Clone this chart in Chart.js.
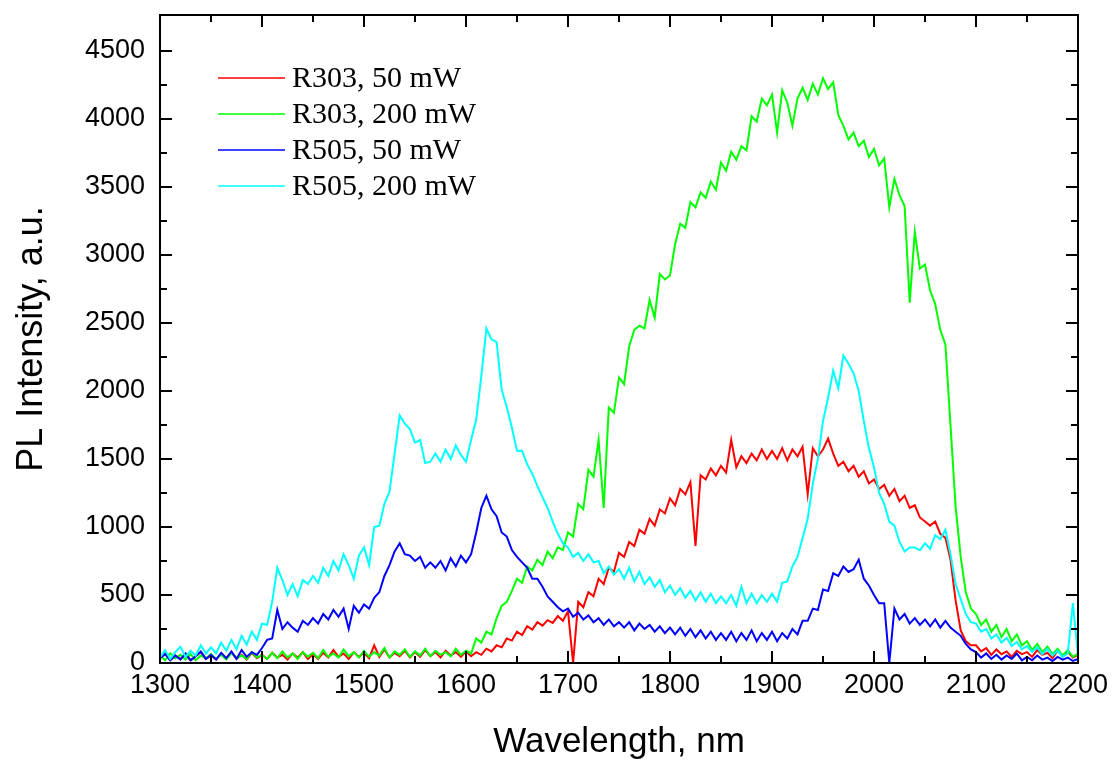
<!DOCTYPE html>
<html>
<head>
<meta charset="utf-8">
<script src="https://cdn.jsdelivr.net/npm/chart.js@4.4.1/dist/chart.umd.min.js"></script>
<style>
  body { margin: 0; background: #fff; }
  #wrap { position: relative; width: 1112px; height: 763px; }
</style>
</head>
<body>
<div id="wrap"><canvas id="PLChart" width="1112" height="763"></canvas></div>
<script>
// PL spectra, sampled every 5 nm from 1300 to 2200 nm
var wlStart = 1300, wlStep = 5;

// R303, 50 mW
var r303_50 = [
  40, 70, 20, 55, 30, 60, 20, 50, 80, 30,              // 1300
  55, 25, 70, 35, 80, 30, 60, 25, 75, 35,              // 1350
  60, 30, 75, 40, 60, 25, 70, 40, 80, 30,              // 1400
  65, 30, 75, 40, 95, 45, 70, 30, 80, 45,              // 1450
  75, 35, 130, 45, 100, 40, 75, 50, 90, 40,            // 1500
  80, 45, 95, 50, 80, 40, 90, 55, 80, 45,              // 1550
  85, 50, 80, 60, 105, 85, 130, 115, 180, 165,         // 1600
  230, 205, 270, 245, 300, 275, 315, 295, 345, 310,    // 1650
  380, 0, 450, 410, 520, 490, 620, 580, 700, 670,      // 1700
  810, 780, 890, 860, 980, 950, 1060, 1010, 1130, 1100, // 1750
  1210, 1160, 1280, 1240, 1330, 860, 1380, 1350, 1430, 1380, // 1800
  1450, 1400, 1640, 1440, 1520, 1470, 1540, 1490, 1570, 1500, // 1850
  1560, 1500, 1580, 1490, 1570, 1520, 1590, 1240, 1580, 1520, // 1900
  1570, 1650, 1540, 1450, 1480, 1410, 1450, 1370, 1410, 1320, // 1950
  1350, 1280, 1310, 1230, 1280, 1190, 1230, 1140, 1160, 1070, // 2000
  1040, 1010, 1040, 950, 920, 760, 460, 240, 160, 130, // 2050
  130, 85, 110, 60, 100, 65, 85, 45, 90, 65,           // 2100
  80, 45, 95, 60, 75, 35, 90, 50, 80, 40,              // 2150
  60                                                    // 2200
];

// R303, 200 mW
var r303_200 = [
  55, 20, 70, 35, 60, 25, 65, 20, 55, 35,
  65, 30, 60, 25, 75, 35, 55, 30, 80, 40,
  60, 30, 75, 35, 85, 40, 70, 30, 80, 45,
  75, 35, 95, 45, 70, 40, 100, 50, 80, 40,
  90, 45, 80, 55, 110, 40, 85, 60, 100, 45,
  85, 55, 105, 50, 90, 60, 80, 50, 105, 60,
  90, 70, 180, 150, 230, 210, 330, 420, 450, 530,
  620, 590, 710, 680, 760, 720, 820, 770, 850, 830,
  960, 930, 1170, 1130, 1420, 1370, 1640, 1140, 1880, 1840,
  2100, 2050, 2330, 2450, 2480, 2460, 2670, 2540, 2860, 2820,
  2850, 3080, 3230, 3200, 3390, 3350, 3460, 3420, 3540, 3480,
  3680, 3620, 3760, 3700, 3800, 3770, 4020, 3980, 4150, 4100,
  4180, 3900, 4210, 4120, 3950, 4150, 4230, 4140, 4260, 4180,
  4300, 4220, 4270, 4030, 3950, 3850, 3900, 3800, 3840, 3720,
  3780, 3660, 3710, 3350, 3560, 3440, 3360, 2650, 3170, 2900,
  2930, 2740, 2640, 2450, 2340, 1750, 1150, 780, 520, 400,
  360, 280, 320, 230, 280, 190, 250, 160, 210, 130,
  160, 95, 140, 80, 120, 65, 105, 55, 95, 45,
  70
];

// R505, 50 mW
var r505_50 = [
  35, 65, 20, 55, 25, 70, 20, 50, 85, 30,
  60, 25, 75, 35, 85, 30, 95, 45, 80, 60,
  110, 170, 180, 390, 250, 300, 260, 230, 310, 280,
  330, 290, 360, 320, 390, 340, 400, 250, 420, 370,
  430, 400, 480, 520, 640, 720, 820, 880, 800, 790,
  750, 780, 700, 740, 700, 750, 680, 770, 710, 790,
  740, 800, 960, 1140, 1230, 1130, 1080, 960, 930, 830,
  780, 740, 700, 620, 620, 560, 490, 450, 410, 380,
  400, 340, 370, 320, 350, 300, 330, 280, 320, 270,
  300, 260, 300, 240, 290, 250, 280, 230, 270, 220,
  260, 210, 260, 200, 250, 190, 240, 180, 230, 170,
  220, 170, 230, 160, 220, 170, 240, 160, 220, 170,
  230, 160, 220, 180, 250, 210, 310, 310, 400, 390,
  540, 530, 660, 640, 710, 670, 690, 760, 620, 570,
  500, 440, 440, 0, 400, 320, 360, 290, 330, 280,
  320, 270, 320, 260, 310, 260, 230, 200, 140, 100,
  80, 40, 70, 30, 60, 25, 55, 30, 70, 20,
  45, 20, 55, 25, 40, 15, 45, 25, 40, 15,
  30
];

// R505, 200 mW
var r505_200 = [
  40, 95, 30, 80, 120, 45, 90, 55, 130, 70,
  115, 70, 150, 90, 170, 100, 200, 135, 230, 170,
  290, 280, 450, 700, 610, 500, 580, 490, 610, 580,
  640, 590, 700, 640, 750, 680, 800, 720, 620, 790,
  850, 720, 1000, 1010, 1170, 1260, 1540, 1820, 1760, 1720,
  1620, 1640, 1470, 1480, 1540, 1480, 1570, 1500, 1600, 1530,
  1480, 1640, 1790, 2110, 2460, 2380, 2360, 2010, 1880, 1730,
  1560, 1560, 1460, 1390, 1300, 1220, 1140, 1040, 950, 880,
  850, 780, 810, 750, 800, 740, 750, 660, 710, 650,
  690, 620, 700, 600, 670, 580, 630, 560, 610, 520,
  570, 500, 550, 480, 530, 460, 520, 450, 510, 440,
  490, 440, 500, 420, 560, 440, 510, 440, 500, 450,
  510, 450, 590, 600, 710, 780, 920, 1060, 1320, 1500,
  1780, 1950, 2150, 2020, 2260, 2200, 2130, 2000, 1780, 1580,
  1440, 1250, 1170, 1040, 1010, 890, 820, 850, 850, 830,
  880, 840, 940, 910, 980, 800, 580, 470, 360, 300,
  290, 230, 250, 180, 210, 150, 185, 125, 155, 100,
  125, 80, 115, 65, 105, 55, 90, 45, 70, 440,
  50
];

var seriesNames = ['R303, 50 mW', 'R303, 200 mW', 'R505, 50 mW', 'R505, 200 mW'];
var seriesColors = ['#ff0000', '#00ff00', '#0000ff', '#00ffff'];
var seriesData = [r303_50, r303_200, r505_50, r505_200];

var yTicks = [0, 500, 1000, 1500, 2000, 2500, 3000, 3500, 4000, 4500];
var xTicks = [1300, 1400, 1500, 1600, 1700, 1800, 1900, 2000, 2100, 2200];

function toPoints(arr) {
  var pts = [];
  for (var i = 0; i < arr.length; i++) {
    pts.push({x: wlStart + i * wlStep, y: arr[i]});
  }
  return pts;
}

// frame, inward ticks and legend (Origin style)
var framePlugin = {
  id: 'frame',
  afterDatasetsDraw: function(chart) {
    var c = chart.ctx, a = chart.chartArea;
    var xs = chart.scales.x, ys = chart.scales.y;
    c.save();
    c.strokeStyle = '#000';
    c.lineWidth = 2;
    c.beginPath();
    var v, p, len;
    for (v = 1300; v <= 2200; v += 50) {
      p = Math.round(xs.getPixelForValue(v));
      len = (v % 100 === 0) ? 12 : 7;
      c.moveTo(p, a.bottom); c.lineTo(p, a.bottom - len);
      c.moveTo(p, a.top); c.lineTo(p, a.top + len);
    }
    for (v = 0; v <= 4500; v += 250) {
      p = Math.round(ys.getPixelForValue(v));
      len = (v % 500 === 0) ? 12 : 7;
      c.moveTo(a.left, p); c.lineTo(a.left + len, p);
      c.moveTo(a.right, p); c.lineTo(a.right - len, p);
    }
    c.stroke();
    c.strokeRect(a.left, a.top, a.right - a.left, a.bottom - a.top);

    // legend
    c.font = '30px "Liberation Serif", "Times New Roman", serif';
    c.textBaseline = 'middle';
    c.fillStyle = '#000';
    for (var i = 0; i < seriesNames.length; i++) {
      var ly = 78 + i * 36;
      c.strokeStyle = seriesColors[i];
      c.lineWidth = 1.5;
      c.beginPath();
      c.moveTo(218, ly); c.lineTo(285, ly);
      c.stroke();
      c.fillText(seriesNames[i], 292, ly + 1);
    }
    c.restore();
  }
};

var ctx = document.getElementById('PLChart').getContext('2d');
var datasets = [];
for (var k = 0; k < seriesData.length; k++) {
  datasets.push({
    label: seriesNames[k],
    data: toPoints(seriesData[k]),
    borderColor: seriesColors[k],
    backgroundColor: seriesColors[k],
    borderWidth: 2,
    pointRadius: 0,
    tension: 0,
    order: seriesData.length - k
  });
}

var plainLabel = function(value) { return String(value); };

var myChart = new Chart(ctx, {
  type: 'line',
  data: { datasets: datasets },
  options: {
    responsive: false,
    animation: false,
    devicePixelRatio: 1,
    layout: { padding: { left: 0, top: 15, right: 34, bottom: 0 } },
    plugins: { legend: { display: false }, tooltip: { enabled: false } },
    scales: {
      x: {
        type: 'linear',
        min: 1300, max: 2200,
        afterFit: function(s) { s.height = 100; s.paddingLeft = 0; s.paddingRight = 0; },
        afterBuildTicks: function(s) { s.ticks = xTicks.map(function(v) { return {value: v}; }); },
        grid: { display: false, drawTicks: false },
        border: { display: false },
        ticks: { color: '#000', padding: 6, maxRotation: 0, callback: plainLabel, font: { family: '"Liberation Sans", Arial, sans-serif', size: 27 } },
        title: { display: true, text: 'Wavelength, nm', color: '#000', padding: { top: 0, bottom: 0 }, font: { family: '"Liberation Sans", Arial, sans-serif', size: 35 } }
      },
      y: {
        min: 0, max: 4765,
        afterFit: function(s) { s.width = 160; s.paddingTop = 0; s.paddingBottom = 0; },
        afterBuildTicks: function(s) { s.ticks = yTicks.map(function(v) { return {value: v}; }); },
        grid: { display: false, drawTicks: false },
        border: { display: false },
        ticks: { color: '#000', padding: 15, callback: plainLabel, font: { family: '"Liberation Sans", Arial, sans-serif', size: 27 } },
        title: { display: true, text: 'PL Intensity, a.u.', color: '#000', padding: { top: 10, bottom: 0 }, font: { family: '"Liberation Sans", Arial, sans-serif', size: 36 } }
      }
    }
  },
  plugins: [framePlugin]
});
</script>
</body>
</html>
